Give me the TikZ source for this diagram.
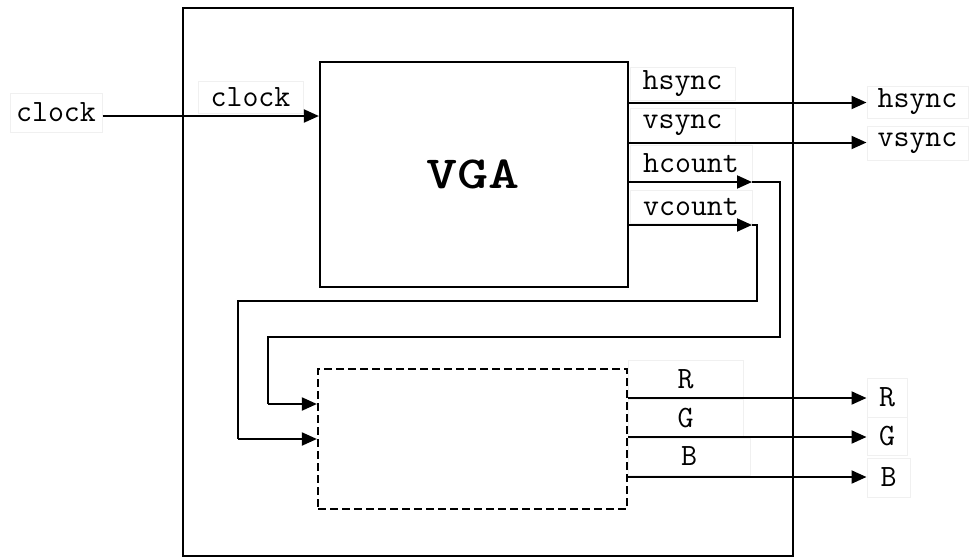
\documentclass[tikz,border=0pt]{standalone}
\usepackage{fontspec}
\usetikzlibrary{arrows.meta,calc}
\begin{document}
\begin{tikzpicture}[x=1pt,y=-1pt,
  box/.style={draw=black,line width=2.2pt,inner sep=0pt},
  lbl/.style={draw=gray!12,line width=1pt,fill=white,inner sep=0pt,font=\ttfamily\fontsize{31}{34}\selectfont},
  wire/.style={line width=2pt},
  arr/.style={wire,-{Triangle[length=15pt,width=13pt]}}]
\useasboundingbox (0,0) rectangle (971,558);
% outer box
\node[box,minimum width=610pt,minimum height=548pt] (outer) at (488,282) {};
% VGA box
\node[box,minimum width=308pt,minimum height=225pt] (vga) at (474,174.5) {};
\node[font=\ttfamily\bfseries\fontsize{46}{46}\selectfont] (vgatxt) at (473,174) {\scalebox{1.29}[1]{VGA}};
% dashed box
\node[box,dashed,dash pattern=on 8pt off 4pt,minimum width=309pt,minimum height=140pt] (rgb) at (472.5,439) {};
% labels
\node[lbl,minimum width=92pt,minimum height=39pt] (clkext) at (56,112.5) {clock};
\node[lbl,minimum width=105pt,minimum height=32pt] (clkin) at (250.5,97) {clock};
\node[lbl,minimum width=105pt,minimum height=33pt] (hsin) at (682.5,83.5) {hsync};
\node[lbl,minimum width=105pt,minimum height=34pt] (vsin) at (682.5,125) {vsync};
\node[lbl,minimum width=122pt,minimum height=37pt] (hcin) at (691,163.5) {hcount};
\node[lbl,minimum width=122pt,minimum height=33pt] (vcin) at (691,206.5) {vcount};
\node[lbl,minimum width=101pt,minimum height=32pt] (hsext) at (917.5,102) {hsync};
\node[lbl,minimum width=101pt,minimum height=34pt] (vsext) at (917.5,143) {vsync};
\node[lbl,minimum width=115pt,minimum height=39pt] (rin) at (685.5,379.5) {R};
\node[lbl,minimum width=115pt,minimum height=39pt] (gin) at (685.5,418.5) {G};
\node[lbl,minimum width=122pt,minimum height=37pt] (bin) at (689,456.5) {B};
\node[lbl,minimum width=40pt,minimum height=39pt] (rext) at (887,397.5) {R};
\node[lbl,minimum width=40pt,minimum height=38pt] (gext) at (887,436) {G};
\node[lbl,minimum width=43pt,minimum height=39pt] (bext) at (888.5,477.5) {B};
% y levels
\coordinate (yclk) at (0,116);
\coordinate (yhs) at (0,102.5);
\coordinate (yvs) at (0,142.5);
\coordinate (yhc) at (0,182);
\coordinate (yvc) at (0,225);
\coordinate (yr) at (0,398);
\coordinate (yg) at (0,437);
\coordinate (yb) at (0,477);
\coordinate (hcx) at (780,0);
\coordinate (vcx) at (757,0);
\coordinate (hcend) at (752,0);
\coordinate (loopa) at (268,0);
\coordinate (loopb) at (238,0);
\coordinate (ya) at (0,337);
\coordinate (yb2) at (0,301);
\coordinate (yin1) at (0,404);
\coordinate (yin2) at (0,439);
% connectors
\draw[arr] (clkext.east |- yclk) -- (vga.west |- yclk);
\draw[arr] (vga.east |- yhs) -- (hsext.west |- yhs);
\draw[arr] (vga.east |- yvs) -- (vsext.west |- yvs);
\draw[arr] (vga.east |- yhc) -- (hcend |- yhc);
\draw[arr] (vga.east |- yvc) -- (hcend |- yvc);
\draw[wire] (hcend |- yhc) -- (hcx |- yhc) -- (hcx |- ya) -- (loopa |- ya) -- (loopa |- yin1);
\draw[arr] (loopa |- yin1) -- (rgb.west |- yin1);
\draw[wire] (hcend |- yvc) -- (vcx |- yvc) -- (vcx |- yb2) -- (loopb |- yb2) -- (loopb |- yin2);
\draw[arr] (loopb |- yin2) -- (rgb.west |- yin2);
\draw[arr] (rgb.east |- yr) -- (rext.west |- yr);
\draw[arr] (rgb.east |- yg) -- (gext.west |- yg);
\draw[arr] (rgb.east |- yb) -- (bext.west |- yb);
\end{tikzpicture}
\end{document}
